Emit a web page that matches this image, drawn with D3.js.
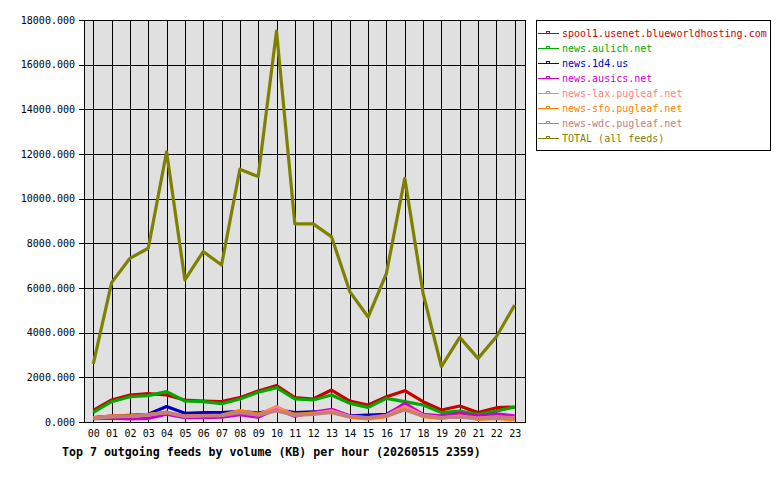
<!DOCTYPE html>
<html><head><meta charset="utf-8">
<script src="https://cdn.jsdelivr.net/npm/d3@7"></script>
<style>body{margin:0;background:#fff}svg{display:block}text{font-family:"DejaVu Sans Mono",monospace}</style>
</head><body><svg id="c" width="780" height="480"></svg>
<script>
const hours = ["00","01","02","03","04","05","06","07","08","09","10","11","12","13","14","15","16","17","18","19","20","21","22","23"];
const yTicks = [0,2000,4000,6000,8000,10000,12000,14000,16000,18000];
const seriesNames = ["spool1.usenet.blueworldhosting.com","news.aulich.net","news.1d4.us","news.ausics.net","news-lax.pugleaf.net","news-sfo.pugleaf.net","news-wdc.pugleaf.net","TOTAL (all feeds)"];
const seriesColors = ["#cc0000","#00aa00","#0000cc","#cc00cc","#ff8080","#ff8000","#c08080","#808000"];
const spool1 = [520,985,1210,1270,1210,985,940,910,1090,1390,1630,1090,1030,1430,940,760,1130,1400,910,540,715,420,640,670];
const aulich = [430,910,1130,1180,1360,940,910,820,1030,1330,1540,1030,985,1210,835,655,1060,910,760,420,490,345,490,670];
const d4 = [200,260,300,345,690,390,420,420,480,400,560,420,460,460,280,310,345,760,300,180,320,220,240,180];
const ausics = [150,170,134,160,345,190,200,220,330,220,570,260,430,570,280,210,310,835,345,280,390,280,360,280];
const lax = [170,240,260,320,450,260,290,300,460,330,690,300,380,500,240,190,290,700,300,200,260,170,230,190];
const sfo = [190,280,280,345,420,260,290,310,510,350,520,350,390,430,210,134,240,570,240,165,270,120,165,90];
const wdc = [165,230,250,310,430,240,270,280,420,300,490,290,340,430,240,190,280,540,280,190,220,165,210,190];
const total = [2600,6240,7330,7780,12100,6360,7630,7030,11320,10990,17500,8870,8870,8300,5840,4700,6660,10910,5760,2480,3790,2850,3820,5240];
const title = "Top 7 outgoing feeds by volume (KB) per hour (20260515 2359)";

const allSeries = [spool1,aulich,d4,ausics,lax,sfo,wdc,total];
const svg = d3.select("#c");
const L=84,R=525,T=20,B=422;
const x = d3.scaleLinear().domain([0,23]).range([93.3,514.7]);
const y = d3.scaleLinear().domain([0,18000]).range([B,T]);

svg.append("rect").attr("x",L).attr("y",T).attr("width",R-L).attr("height",B-T).attr("fill","#e0e0e0");
const g = svg.append("g").attr("shape-rendering","crispEdges");
g.selectAll("line.v").data(hours).join("line").attr("class","v")
  .attr("x1",(d,i)=>Math.round(x(i))+0.5).attr("x2",(d,i)=>Math.round(x(i))+0.5)
  .attr("y1",T).attr("y2",B).attr("stroke","#000");
g.selectAll("line.h").data(yTicks).join("line").attr("class","h")
  .attr("x1",L-5).attr("x2",R).attr("y1",d=>Math.round(y(d))+0.5).attr("y2",d=>Math.round(y(d))+0.5).attr("stroke","#000");
g.append("rect").attr("x",L+0.5).attr("y",T+0.5).attr("width",R-L).attr("height",B-T).attr("fill","none").attr("stroke","#000");

svg.selectAll("text.yl").data(yTicks).join("text").attr("class","yl")
  .attr("x",75).attr("y",d=>y(d)).attr("dy","0.35em").attr("text-anchor","end")
  .attr("font-size",10).text(d=>d3.format(".3f")(d));
svg.selectAll("text.xl").data(hours).join("text").attr("class","xl")
  .attr("x",(d,i)=>x(i)+0.5).attr("y",436.5).attr("text-anchor","middle")
  .attr("font-size",10).text(d=>d);

const line = d3.line().x((d,i)=>x(i)).y(d=>y(d));
allSeries.forEach((s,k)=>{
  svg.append("path").attr("d",line(s)).attr("fill","none").attr("stroke",seriesColors[k])
    .attr("stroke-width",3.2).attr("stroke-linejoin","round");
});

svg.append("text").attr("x",62).attr("y",456).attr("font-size",11.6).attr("font-weight","bold").text(title);

const lg = svg.append("g");
lg.append("rect").attr("x",536.5).attr("y",20.5).attr("width",234).attr("height",130).attr("fill","#fff").attr("stroke","#000").attr("stroke-width",1);
seriesNames.forEach((n,k)=>{
  const yy = 33 + k*15;
  lg.append("line").attr("x1",538).attr("x2",559).attr("y1",yy+0.5).attr("y2",yy+0.5).attr("stroke",seriesColors[k]).attr("shape-rendering","crispEdges");
  lg.append("rect").attr("x",546.5).attr("y",yy-1.5).attr("width",3).attr("height",2).attr("fill","none").attr("stroke",seriesColors[k]).attr("shape-rendering","crispEdges");
  lg.append("text").attr("x",562).attr("y",yy).attr("dy","0.35em").attr("font-size",10).attr("fill",seriesColors[k]).text(n);
});
</script></body></html>
